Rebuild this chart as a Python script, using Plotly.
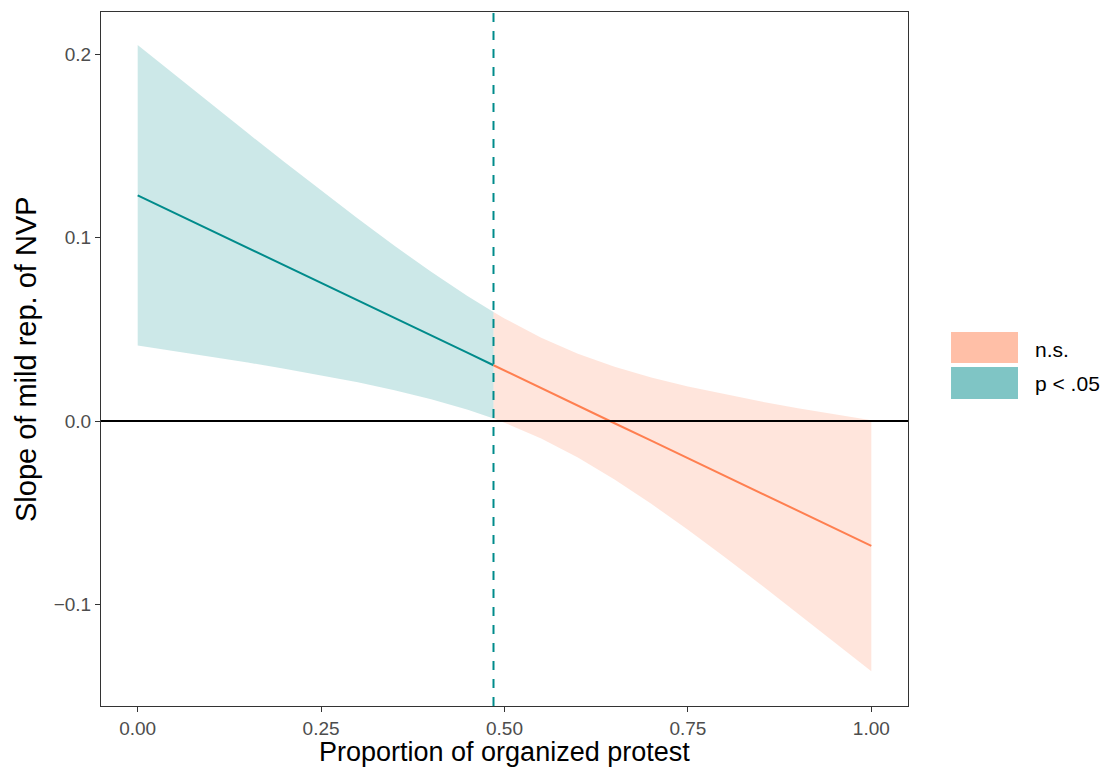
import plotly.graph_objects as go

# ---- data ----
x_sig = [0.0, 0.05, 0.1, 0.15, 0.2, 0.25, 0.3, 0.35, 0.4, 0.45, 0.485]
fit_sig = [0.1230, 0.1135, 0.1039, 0.0944, 0.0848, 0.0753, 0.0657, 0.0562, 0.0466, 0.0371, 0.0304]
upper_sig = [0.2049, 0.1888, 0.1727, 0.1569, 0.1411, 0.1256, 0.1103, 0.0955, 0.0813, 0.0680, 0.0594]
lower_sig = [0.0411, 0.0382, 0.0351, 0.0319, 0.0285, 0.0249, 0.0211, 0.0168, 0.0119, 0.0061, 0.0014]

x_ns = [0.485, 0.5, 0.55, 0.6, 0.65, 0.7, 0.75, 0.8, 0.85, 0.9, 0.95, 1.0]
fit_ns = [0.0304, 0.0275, 0.0180, 0.0084, -0.0012, -0.0107, -0.0203, -0.0298, -0.0394, -0.0489, -0.0585, -0.0680]
upper_ns = [0.0594, 0.0559, 0.0454, 0.0367, 0.0296, 0.0237, 0.0188, 0.0145, 0.0106, 0.0070, 0.0037, 0.0004]
lower_ns = [0.0014, -0.0009, -0.0095, -0.0199, -0.0319, -0.0451, -0.0593, -0.0741, -0.0893, -0.1048, -0.1206, -0.1364]

threshold = 0.485
legend_labels = ["n.s.", "p < .05"]
x_tick_vals = [0.0, 0.25, 0.5, 0.75, 1.0]
x_tick_text = ["0.00", "0.25", "0.50", "0.75", "1.00"]
y_tick_vals = [-0.1, 0.0, 0.1, 0.2]
y_tick_text = ["\u22120.1", "0.0", "0.1", "0.2"]
x_title = "Proportion of organized protest"
y_title = "Slope of mild rep. of NVP"

# ---- styles ----
TEAL = "#008B8B"
CORAL = "#FF7F50"
TEAL_RIB = "rgba(0,139,139,0.2)"
CORAL_RIB = "rgba(255,127,80,0.2)"
TEAL_KEY = "rgba(0,139,139,0.5)"
CORAL_KEY = "rgba(255,127,80,0.5)"
FONT = "Liberation Sans, Arial, sans-serif"

fig = go.Figure()

def ribbon(xs, up, lo, color):
    fig.add_trace(go.Scatter(
        x=list(xs) + list(xs)[::-1],
        y=list(up) + list(lo)[::-1],
        fill="toself", fillcolor=color, mode="lines",
        line=dict(width=0), hoverinfo="skip", showlegend=False))

ribbon(x_sig, upper_sig, lower_sig, TEAL_RIB)
ribbon(x_ns, upper_ns, lower_ns, CORAL_RIB)

fig.add_trace(go.Scatter(x=x_sig, y=fit_sig, mode="lines",
                         line=dict(color=TEAL, width=2), showlegend=False))
fig.add_trace(go.Scatter(x=x_ns, y=fit_ns, mode="lines",
                         line=dict(color=CORAL, width=2), showlegend=False))

# zero line and threshold line
fig.add_shape(type="line", xref="paper", x0=0, x1=1, yref="y", y0=0, y1=0,
              line=dict(color="black", width=2), layer="above")
fig.add_shape(type="line", xref="x", x0=threshold, x1=threshold, yref="paper", y0=0, y1=1,
              line=dict(color=TEAL, width=2, dash="dash"), layer="above")

# manual legend (ggplot style keys)
key_x0, key_x1 = 1.0533, 1.1363
keys = [(0.5389, 0.4942, CORAL_KEY, 0.5130), (0.4885, 0.4424, TEAL_KEY, 0.4654)]
for (ytop, ybot, col, ytxt), lab in zip(keys, legend_labels):
    fig.add_shape(type="rect", xref="paper", yref="paper", x0=key_x0, x1=key_x1,
                  y0=ybot, y1=ytop, fillcolor=col, line=dict(width=0))
    fig.add_annotation(xref="paper", yref="paper", x=1.1549, y=ytxt, text=lab,
                       showarrow=False, xanchor="left", yanchor="middle",
                       font=dict(family=FONT, size=21, color="black"))

# axis titles placed as annotations (fixed positions like the reference)
fig.add_annotation(xref="paper", yref="paper", x=0.5, y=-0.0905, text=x_title,
                   showarrow=False, xanchor="center", yanchor="bottom",
                   font=dict(family=FONT, size=27, color="black"))
fig.add_annotation(xref="paper", yref="paper", x=-0.0929, y=0.5, text=y_title,
                   showarrow=False, xanchor="center", yanchor="middle", textangle=-90,
                   font=dict(family=FONT, size=29, color="black"))

axis_common = dict(showgrid=False, zeroline=False, showline=True, mirror=True,
                   linecolor="#333333", linewidth=1, ticks="outside", ticklen=5,
                   tickcolor="#333333", tickwidth=1, automargin=False,
                   tickfont=dict(family=FONT, size=19, color="#4D4D4D"))

fig.update_layout(
    width=1112, height=769,
    margin=dict(l=101, r=204, t=12, b=63),
    plot_bgcolor="white", paper_bgcolor="white",
    showlegend=False,
    xaxis=dict(range=[-0.05, 1.05], tickvals=x_tick_vals, ticktext=x_tick_text, **axis_common),
    yaxis=dict(range=[-0.1553, 0.2229], tickvals=y_tick_vals, ticktext=y_tick_text, **axis_common),
)

fig.write_html("out.html", config={"displayModeBar": False},
               post_script="document.body.style.margin='0';document.body.style.overflow='hidden';")
